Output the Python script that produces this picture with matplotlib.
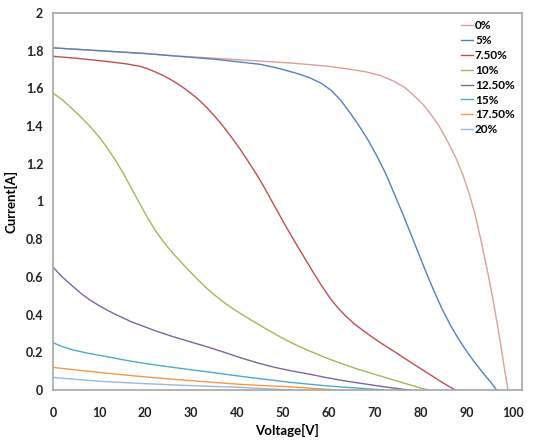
import matplotlib.pyplot as plt

plt.rcParams['font.family'] = ['Lato', 'DejaVu Sans']

labels = ['0%', '5%', '7.50%', '10%', '12.50%', '15%', '17.50%', '20%']
colors = ['#dba09c', '#5482b8', '#c0504d', '#9bbb59', '#7f649f', '#4bacc6', '#f79646', '#9bb7da']

v0 = [0, 10, 20, 26, 35, 45, 51.5, 55, 60, 65, 68, 71, 74, 76.5, 78.4, 80.5, 82, 84, 85.6, 87.5,
      89.2, 90.5, 91.8, 93.2, 94.7, 95.8, 96.8, 97.6, 98.3, 99]
i0 = [1.815, 1.8, 1.785, 1.773, 1.76, 1.745, 1.735, 1.728, 1.717, 1.70, 1.688, 1.67, 1.64, 1.605, 1.565, 1.515,
      1.47, 1.40, 1.33, 1.24, 1.14, 1.045, 0.935, 0.785, 0.61, 0.47, 0.33, 0.21, 0.10, 0]

v5 = [0, 10, 20, 26, 35, 45, 49.3, 53, 56, 58.5, 60.5, 62.5, 64.5, 66.5, 68.5, 70.5, 72.5, 74.7, 76,
      77.4, 79.2, 81, 82.8, 84.6, 86.4, 88.2, 90, 91.8, 93.6, 95.4, 96.5]
i5 = [1.815, 1.80, 1.785, 1.773, 1.755, 1.728, 1.705, 1.68, 1.655, 1.625, 1.59, 1.54, 1.475, 1.405, 1.328,
      1.24, 1.142, 1.015, 0.94, 0.855, 0.745, 0.635, 0.53, 0.433, 0.347, 0.272, 0.205, 0.145, 0.089, 0.037, 0]

v7 = [0, 5, 11.7, 16, 18.9, 20.5, 22, 24, 26.1, 28, 29.8, 31.6, 33.4, 35.2, 37, 38.8, 40.7, 42.5, 44.3,
      46, 48, 50, 52, 54, 56.6, 58.4, 60.2, 62, 63.8, 65.6, 67.5, 69.3, 71.1, 73, 74.7, 76.5, 78.4,
      80.2, 82, 83.8, 85.6, 87.5]
i7 = [1.77, 1.76, 1.743, 1.73, 1.717, 1.705, 1.69, 1.668, 1.64, 1.61, 1.578, 1.542, 1.50, 1.452, 1.40,
      1.342, 1.278, 1.212, 1.143, 1.073, 0.985, 0.897, 0.812, 0.73, 0.625, 0.555, 0.49, 0.435, 0.39, 0.35,
      0.315, 0.283, 0.253, 0.223, 0.197, 0.168, 0.138, 0.11, 0.082, 0.054, 0.027, 0]

v10 = [0, 2, 4.4, 6.2, 8, 10, 11.7, 13.5, 15.3, 17, 18.9, 20.7, 22.5, 24.3, 26.1, 28, 29.8, 31.6, 33.4,
       35.2, 37, 38.8, 40.7, 42.5, 44.3, 46, 47.9, 49.7, 51.5, 53.5, 55.6, 58, 60.2, 62.8, 66, 70, 74,
       77.4, 81.5]
i10 = [1.575, 1.54, 1.487, 1.445, 1.40, 1.343, 1.288, 1.222, 1.15, 1.072, 0.988, 0.908, 0.838, 0.778, 0.725,
       0.675, 0.628, 0.583, 0.541, 0.503, 0.468, 0.437, 0.407, 0.38, 0.354, 0.329, 0.303, 0.278, 0.255, 0.232,
       0.209, 0.185, 0.163, 0.14, 0.113, 0.083, 0.054, 0.029, 0]

v12 = [0, 2, 4.4, 6.2, 8, 10, 11.7, 13.5, 15.3, 17, 18.9, 22.5, 26.1, 29.8, 33.4, 37, 40.7, 44.3, 47.9,
       51.5, 55.6, 59, 63, 66.5, 70, 73.5, 77.5]
i12 = [0.652, 0.60, 0.548, 0.51, 0.478, 0.448, 0.425, 0.402, 0.382, 0.362, 0.345, 0.312, 0.283, 0.256, 0.23,
       0.202, 0.172, 0.145, 0.122, 0.103, 0.085, 0.068, 0.05, 0.037, 0.024, 0.012, 0]

v15 = [0, 2, 4.4, 8, 11.7, 15.3, 18.9, 22.5, 26.1, 29.8, 33.4, 37, 40.7, 46, 51.5, 56, 60, 64, 68, 72]
i15 = [0.251, 0.23, 0.212, 0.193, 0.177, 0.16, 0.145, 0.132, 0.12, 0.108, 0.097, 0.085, 0.073, 0.057, 0.041,
       0.03, 0.021, 0.014, 0.007, 0]

v17 = [0, 5, 11.7, 18.9, 26.1, 33.4, 40.7, 46, 51.5, 57, 62]
i17 = [0.12, 0.106, 0.089, 0.072, 0.057, 0.043, 0.03, 0.023, 0.017, 0.008, 0]

v20 = [0, 5, 11.7, 18.9, 26.1, 33.4, 40.7, 47, 52]
i20 = [0.067, 0.056, 0.044, 0.035, 0.027, 0.02, 0.014, 0.006, 0]

volts = [v0, v5, v7, v10, v12, v15, v17, v20]
amps = [i0, i5, i7, i10, i12, i15, i17, i20]

fig = plt.figure(figsize=(5.33, 4.46), dpi=100)
ax = fig.add_axes([0.0994, 0.1256, 0.8796, 0.8453])

for v, i, c, lab in zip(volts, amps, colors, labels):
    ax.plot(v, i, color=c, lw=1.0, label=lab)

ax.set_xlim(0, 102)
ax.set_ylim(0, 2)
ax.set_xticks(range(0, 101, 10))
ax.set_yticks([0, 0.2, 0.4, 0.6, 0.8, 1, 1.2, 1.4, 1.6, 1.8, 2])
ax.set_yticklabels(['0', '0.2', '0.4', '0.6', '0.8', '1', '1.2', '1.4', '1.6', '1.8', '2'])
ax.tick_params(length=0, labelsize=9, colors='#222222')
ax.tick_params(axis='x', pad=12)
ax.tick_params(axis='y', pad=7)
for t in ax.get_xticklabels() + ax.get_yticklabels():
    t.set_fontweight('bold')
for s in ax.spines.values():
    s.set_color('#a6a6a6')
    s.set_linewidth(1.2)

ax.set_xlabel('Voltage[V]', fontsize=9.5, fontweight='bold', labelpad=4)
ax.set_ylabel('Current[A]', fontsize=9.5, fontweight='bold', labelpad=6)

leg = ax.legend(loc='upper right', bbox_to_anchor=(1.0, 1.0), frameon=False,
                fontsize=8.5, handlelength=1.0, handletextpad=0.15,
                labelspacing=0.33, borderaxespad=0.2)
for t in leg.get_texts():
    t.set_fontweight('bold')

fig.savefig('out.png', dpi=100)
